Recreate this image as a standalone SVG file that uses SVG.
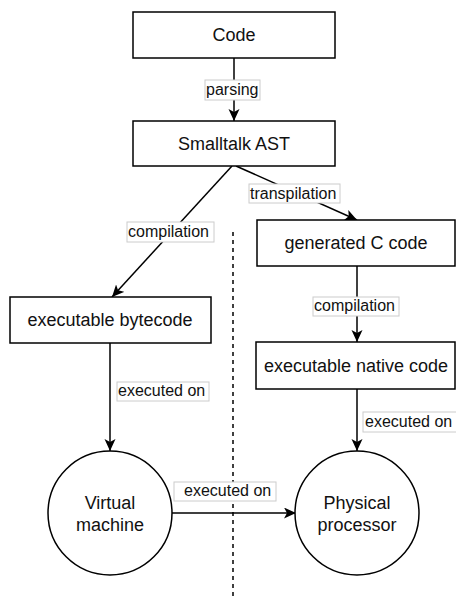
<svg xmlns="http://www.w3.org/2000/svg" width="456" height="596" viewBox="0 0 456 596">
<style>
.n{fill:#fff;stroke:#000;stroke-width:1.5}
.t{font-family:"Liberation Sans",Arial,sans-serif;font-size:18px;fill:#111;text-anchor:middle}
.l{font-family:"Liberation Sans",Arial,sans-serif;font-size:16px;fill:#111}
.lb{fill:#fff;stroke:#ccc;stroke-width:1}
.e{fill:none;stroke:#000;stroke-width:1.5}
</style>
<defs>
<marker id="a" markerUnits="userSpaceOnUse" markerWidth="14" markerHeight="12" refX="12" refY="5.5" orient="auto">
<path d="M0,0 L12,5.5 L0,11 L3,5.5 Z" fill="#000"/>
</marker>
</defs>
<line x1="233" y1="232" x2="233" y2="596" stroke="#000" stroke-width="1.5" stroke-dasharray="4,4"/>
<g id="connectors">
<line class="e" x1="234" y1="58" x2="234" y2="121" marker-end="url(#a)"/>
<line class="e" x1="232" y1="166" x2="112" y2="297" marker-end="url(#a)"/>
<line class="e" x1="236" y1="166" x2="357" y2="220" marker-end="url(#a)"/>
<line class="e" x1="357" y1="266" x2="357" y2="342" marker-end="url(#a)"/>
<line class="e" x1="110" y1="343" x2="110" y2="451" marker-end="url(#a)"/>
<line class="e" x1="357" y1="389" x2="357" y2="451" marker-end="url(#a)"/>
<line class="e" x1="172" y1="513" x2="296" y2="513" marker-end="url(#a)"/>
<g id="lbl-parsing"><rect class="lb" x="205" y="80" width="55" height="20"/><text class="l" x="206" y="95">parsing</text></g>
<g id="lbl-transpilation"><rect class="lb" x="249" y="184" width="91" height="19"/><text class="l" x="250" y="199">transpilation</text></g>
<g id="lbl-compilation1"><rect class="lb" x="127" y="222" width="87" height="20"/><text class="l" x="128" y="237">compilation</text></g>
<g id="lbl-compilation2"><rect class="lb" x="313" y="297" width="86" height="19"/><text class="l" x="314" y="311">compilation</text></g>
<g id="lbl-exec1"><rect class="lb" x="117" y="382" width="92" height="19"/><text class="l" x="118" y="396">executed on</text></g>
<g id="lbl-exec2"><rect class="lb" x="363" y="412" width="96" height="20"/><text class="l" x="365" y="427">executed on</text></g>
<g id="lbl-exec3"><rect class="lb" x="174" y="482" width="102" height="19"/><text class="l" x="184" y="496">executed on</text></g>
</g>
<g id="code"><rect class="n" x="133" y="12" width="202" height="46"/><text class="t" x="234" y="41">Code</text></g>
<g id="ast"><rect class="n" x="133" y="121" width="202" height="45"/><text class="t" x="234" y="150">Smalltalk AST</text></g>
<g id="ccode"><rect class="n" x="257" y="220" width="198" height="46"/><text class="t" x="356" y="249">generated C code</text></g>
<g id="bytecode"><rect class="n" x="10" y="297" width="201" height="46"/><text class="t" x="110" y="326">executable bytecode</text></g>
<g id="native"><rect class="n" x="256" y="342" width="199" height="47"/><text class="t" x="356" y="372">executable native code</text></g>
<g id="vm"><circle class="n" cx="110" cy="513" r="62"/><text class="t" x="110" y="509">Virtual</text><text class="t" x="110" y="531">machine</text></g>
<g id="cpu"><circle class="n" cx="357" cy="513" r="62"/><text class="t" x="357" y="509">Physical</text><text class="t" x="357" y="531">processor</text></g>
</svg>
